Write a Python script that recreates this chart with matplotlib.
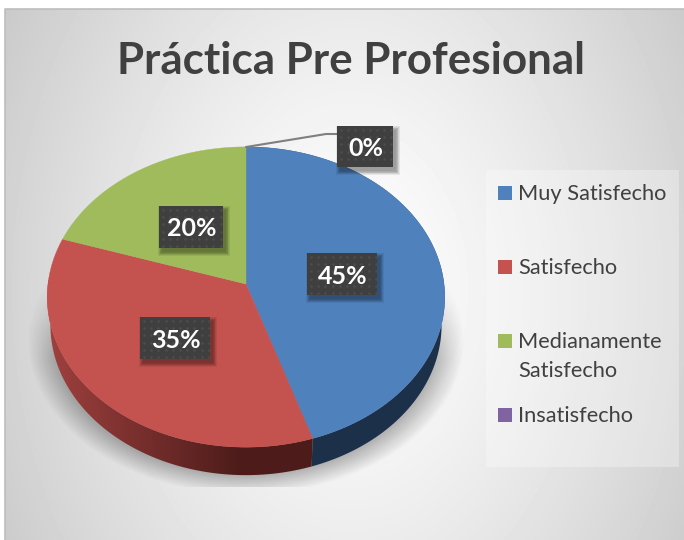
import numpy as np
import matplotlib
matplotlib.use('Agg')
import matplotlib.pyplot as plt
from matplotlib.patches import Polygon, Rectangle

plt.rcParams['font.family'] = ['Lato', 'DejaVu Sans']

# ── data ──────────────────────────────────────────────────────────────────────
categories = ["Muy Satisfecho", "Satisfecho", "Medianamente\nSatisfecho", "Insatisfecho"]
values = [45, 35, 20, 0]
colors = ["#4f81bd", "#c4524f", "#9fbb5b", "#8064a2"]
title = "Práctica Pre Profesional"

# pie geometry in pixels
CX, CY, R, RY, K, DEPTH = 246, 284, 198, 149, 0.0867, 28
TEXT = "#404040"


def project(theta, depth=0):
    # theta in degrees, clockwise from the top of the pie
    t = np.radians(theta)
    u, v = np.sin(t), -np.cos(t)
    s = 1 / (1 - K * v)
    shrink = 1 - 0.016 * depth / DEPTH
    return np.column_stack([CX + R * shrink * u * s, CY + RY * v * s + depth])


fig = plt.figure(figsize=(6.84, 5.4), dpi=100)
ax = fig.add_axes([0, 0, 1, 1])
ax.set_xlim(0, 684)
ax.set_ylim(540, 0)
ax.axis("off")

# ── background ────────────────────────────────────────────────────────────────
yy, xx = np.mgrid[9:540, 5:684] + 0.5
t = np.hypot((xx - 350) / 345, (yy - 290) / 480)
ax.imshow(255 - 44 * t ** 1.3, cmap="gray", vmin=0, vmax=255, extent=(5, 684, 540, 9),
          aspect="auto", zorder=0)
ax.plot([5, 5, 684], [540, 9, 9], color="#bdbdbd", lw=1.2, zorder=1)
ax.set_xlim(0, 684)
ax.set_ylim(540, 0)

# ── shadow under the pie ──────────────────────────────────────────────────────
yy, xx = np.mgrid[250:487, 25:470] + 0.5
d = np.hypot((xx - 246) / 212, (yy - 340) / 150)
edge = np.clip((1.03 - d) / 0.13, 0, 1)
fade = np.clip((yy - 270) / 90, 0, 1)
shadow = np.zeros(xx.shape + (4,))
shadow[..., 3] = 0.27 * edge * fade
ax.imshow(shadow, extent=(25, 470, 487, 250), aspect="auto", zorder=2)
ax.set_xlim(0, 684)
ax.set_ylim(540, 0)

# ── side wall and top face ────────────────────────────────────────────────────
bounds = np.cumsum([0] + values) * 3.6

for start, stop, color in zip(bounds[:-1], bounds[1:], colors):
    if stop <= start:
        continue
    th = np.linspace(start, stop, 120)
    outline = np.vstack([project(th), project(th[::-1], DEPTH)])
    if start == 0:
        ax.add_patch(Polygon(outline, closed=True, color="#1d3049", lw=0, zorder=3))
    elif start < 180:
        # red wall, gets darker towards the front
        clip = Polygon(outline, closed=True, transform=ax.transData, fc="none", lw=0)
        ax.add_patch(clip)
        ramp = np.clip((np.arange(40, 320) + 0.5 - 50) / 190, 0, 1)
        rgb = np.outer(1 - ramp, [0x9e, 0x40, 0x3e]) + np.outer(ramp, [0x4d, 0x1c, 0x1a])
        im = ax.imshow(rgb[None, :, :] / 255, extent=(40, 320, 490, 280), aspect="auto", zorder=3)
        im.set_clip_path(clip)
        ax.set_xlim(0, 684)
        ax.set_ylim(540, 0)

for start, stop, color in zip(bounds[:-1], bounds[1:], colors):
    if stop <= start:
        continue
    th = np.linspace(start, stop, 200)
    pts = np.vstack([[CX, CY], project(th)])
    ax.add_patch(Polygon(pts, closed=True, fc=color, ec=color, lw=0.3, zorder=4))

# ── data labels ───────────────────────────────────────────────────────────────
# x0, x1, y0, y1 of each dark label box
boxes = [(307, 377, 253, 295), (140, 210, 317, 359), (159, 223, 206, 248), (337, 393, 126, 167)]

ax.plot([CX, 326, 337], [147, 134, 134], color="#7f7f7f", lw=1.5, zorder=5, solid_capstyle="round")

for (x0, x1, y0, y1), val in zip(boxes, values):
    for grow in np.linspace(4, 0, 6):
        ax.add_patch(Rectangle((x0 + 3 - grow, y0 + 4 - grow), x1 - x0 + 2 * grow, y1 - y0 + 2 * grow,
                               fc="black", ec="none", alpha=0.07, zorder=6))
    ax.add_patch(Rectangle((x0, y0), x1 - x0, y1 - y0, fc="#3f3f3f", ec="none", zorder=7))
    gx, gy = np.meshgrid(np.arange(x0 + 4, x1 - 1, 7.2), np.arange(y0 + 4, y1 - 1, 7.2))
    ax.scatter(gx.ravel(), gy.ravel(), s=3.5, color="#4d4d4d", lw=0, zorder=8)
    ax.text((x0 + x1) / 2 + 1, (y0 + y1) / 2 + 2, f"{val}%", color="white", fontsize=18,
            fontweight="bold", ha="center", va="center", zorder=9)

# ── legend ────────────────────────────────────────────────────────────────────
ax.add_patch(Rectangle((486, 170), 193, 297, fc="white", ec="none", alpha=0.3, zorder=3))
leg_y = [193, 267, 341, 415]
for name, color, y in zip(categories, colors, leg_y):
    ax.add_patch(Rectangle((498, y - 7), 14, 14, fc=color, ec="none", zorder=5))
    lines = name.split("\n")
    for i, line in enumerate(lines):
        ax.text(518, y + 1 + i * 29, line, color=TEXT, fontsize=15.7, ha="left", va="center", zorder=5)

# ── title ─────────────────────────────────────────────────────────────────────
ax.text(351, 61, title, color=TEXT, fontsize=31.7, fontweight="bold", ha="center", va="center", zorder=5)

fig.savefig("out.png", dpi=100)
